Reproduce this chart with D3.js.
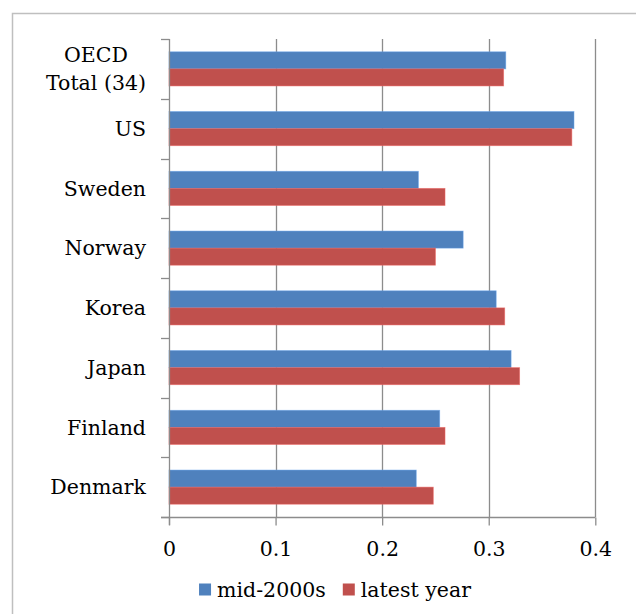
<!DOCTYPE html>
<html>
<head>
<meta charset="utf-8">
<script src="https://cdn.jsdelivr.net/npm/d3@7/dist/d3.min.js"></script>
<style>
  html, body { margin: 0; padding: 0; background: #fff; }
  svg { display: block; }
  text { font-family: "DejaVu Serif", serif; fill: #000; }
</style>
</head>
<body>
<svg id="chart" width="636" height="614"></svg>
<script>
// Categories, top to bottom
const countries = ["OECD\nTotal (34)", "US", "Sweden", "Norway", "Korea", "Japan", "Finland", "Denmark"];
const seriesNames = ["mid-2000s", "latest year"];
const mid2000s   = [0.316, 0.380, 0.234, 0.276, 0.307, 0.321, 0.254, 0.232];
const latestYear = [0.314, 0.378, 0.259, 0.250, 0.315, 0.329, 0.259, 0.248];
const xTicks = [0, 0.1, 0.2, 0.3, 0.4];
const colors = ["#4F81BD", "#C0504D"];

const svg = d3.select("#chart");
const margin = { left: 169, right: 41, top: 39, bottom: 97 };
const W = 636, H = 614;
const x0 = margin.left, x1 = W - margin.right;
const y0 = margin.top, y1 = H - margin.bottom;
const fs = 20.5;

// Outer chart frame
svg.append("rect")
  .attr("x", 12.5).attr("y", 13.5)
  .attr("width", 700).attr("height", 700)
  .attr("fill", "#fff").attr("stroke", "#bfbfbf").attr("stroke-width", 1.5);

const x = d3.scaleLinear().domain([0, 0.4]).range([x0, x1 + 0.3]);
const y = d3.scaleBand().domain(countries).range([y0, y1]).padding(0);
const ySub = d3.scaleBand().domain(seriesNames).range([0, y.bandwidth()])
  .paddingInner(0).paddingOuter(0.75);

const rows = countries.map((c, i) => ({ c, vals: [mid2000s[i], latestYear[i]] }));

// Vertical gridlines
svg.append("g").selectAll("line")
  .data(xTicks.filter(t => t > 0))
  .join("line")
  .attr("x1", d => Math.round(x(d)) + 0.5).attr("x2", d => Math.round(x(d)) + 0.5)
  .attr("y1", y0).attr("y2", y1)
  .attr("stroke", "#8c8c8c").attr("stroke-width", 1.3);

// Bars
const g = svg.append("g");
rows.forEach(r => {
  r.vals.forEach((v, j) => {
    g.append("rect")
      .attr("x", x(0))
      .attr("y", y(r.c) + ySub(seriesNames[j]))
      .attr("width", x(v) - x(0))
      .attr("height", ySub.bandwidth())
      .attr("fill", colors[j])
      .attr("stroke", d3.color(colors[j]).brighter(0.6))
      .attr("stroke-opacity", 0.6)
      .attr("stroke-width", 0.8);
  });
});

// Bottom axis
const xAxis = d3.axisBottom(x).tickValues(xTicks).tickSize(8).tickPadding(16)
  .tickFormat(d => d === 0 ? "0" : d3.format(".1f")(d));
const ax = svg.append("g").attr("transform", `translate(0,${y1 + 0.5})`).call(xAxis);
ax.select(".domain").remove();
ax.selectAll(".tick line").attr("stroke", "#8c8c8c").attr("stroke-width", 1.3);
ax.selectAll(".tick text").attr("font-size", fs).attr("font-family", "DejaVu Serif")
  .attr("fill", "#000");
svg.append("line")
  .attr("x1", x0 - 8).attr("x2", x1 + 0.5).attr("y1", y1 + 0.5).attr("y2", y1 + 0.5)
  .attr("stroke", "#8c8c8c").attr("stroke-width", 1.3);

// Left axis line and category ticks
svg.append("line")
  .attr("x1", x0 + 0.5).attr("x2", x0 + 0.5).attr("y1", y0).attr("y2", y1 + 8)
  .attr("stroke", "#8c8c8c").attr("stroke-width", 1.3);
const boundaries = countries.map(c => y(c)).concat([y1]);
svg.append("g").selectAll("line").data(boundaries).join("line")
  .attr("x1", x0 - 8).attr("x2", x0 + 0.5)
  .attr("y1", d => Math.round(d) + 0.5).attr("y2", d => Math.round(d) + 0.5)
  .attr("stroke", "#8c8c8c").attr("stroke-width", 1.3);

// Category labels (multi-line labels are centred as a block)
const labelRight = 146;
const lineH = 28;
countries.forEach(c => {
  const lines = c.split("\n");
  const cy = y(c) + y.bandwidth() / 2;
  const t = svg.append("text").attr("font-size", fs);
  if (lines.length === 1) {
    t.attr("x", labelRight).attr("y", cy).attr("dy", "0.35em")
      .attr("text-anchor", "end").text(c);
  } else {
    const widths = lines.map(l => {
      const s = svg.append("text").attr("font-size", fs).text(l);
      const w = s.node().getComputedTextLength();
      s.remove();
      return w;
    });
    const cx = labelRight - d3.max(widths) / 2;
    t.attr("text-anchor", "middle");
    lines.forEach((l, k) => {
      t.append("tspan").attr("x", cx)
        .attr("y", cy + (k - (lines.length - 1) / 2) * lineH)
        .attr("dy", "0.35em").text(l);
    });
  }
});

// Legend, centred under the plot
const legend = svg.append("g");
let lx = 0;
seriesNames.forEach((s, j) => {
  legend.append("rect").attr("x", lx).attr("y", 0).attr("width", 12).attr("height", 12)
    .attr("fill", colors[j]);
  const t = legend.append("text").attr("x", lx + 18).attr("y", 13)
    .attr("font-size", fs).text(s);
  lx += 18 + t.node().getComputedTextLength() + (j === 0 ? 17 : 0);
});
legend.attr("transform", `translate(${335 - lx / 2},583.5)`);
</script>
</body>
</html>
